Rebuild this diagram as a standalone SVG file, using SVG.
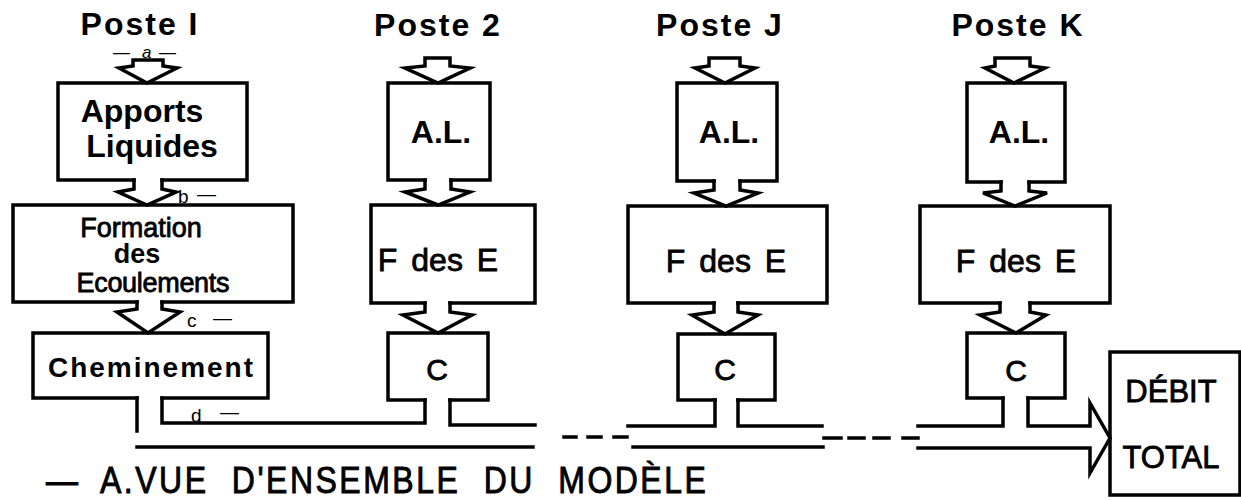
<svg xmlns="http://www.w3.org/2000/svg" width="1241" height="500" viewBox="0 0 1241 500">
  <style>
    .ln { fill: none; stroke: #000; stroke-width: 3.5; stroke-linejoin: miter; stroke-linecap: square; }
    .ar { fill: #fff; stroke: #000; stroke-width: 3.5; stroke-linejoin: miter; }
    .t { font-family: "Liberation Sans", Arial, sans-serif; fill: #000; }
    .b { font-weight: bold; }
    .r { stroke: #000; stroke-width: 0.8; }
    .hd { font-size: 32px; font-weight: bold; letter-spacing: 2px; text-anchor: middle; }
    .mid { text-anchor: middle; }
    .lab { font-size: 19px; }
  </style>

  <rect width="1241" height="500" fill="#fff"/>

  <!-- column headings -->
  <g id="headings">
    <text class="t hd" x="140" y="35">Poste I</text>
    <text class="t hd" x="438" y="36">Poste 2</text>
    <text class="t hd" x="720" y="36">Poste J</text>
    <text class="t hd" x="1018" y="36">Poste K</text>
  </g>

  <!-- Poste I : detailed chain -->
  <g id="apports-liquides">
    <path class="ln" d="M134,180 H58 V83 H247 V180 H162"/>
    <text class="t b mid" x="142" y="122" font-size="32">Apports</text>
    <text class="t b mid" x="152" y="157" font-size="32">Liquides</text>
  </g>
  <g id="formation-ecoulements">
    <path class="ln" d="M137,302 H13 V205 H293 V302 H162"/>
    <text class="t r mid" x="141" y="237" font-size="27">Formation</text>
    <text class="t b mid" x="137" y="263" font-size="27">des</text>
    <text class="t r mid" x="153" y="292" font-size="27" textLength="153">Ecoulements</text>
  </g>
  <g id="cheminement">
    <path class="ln" d="M137,398 H33 V333 H268 V398 H162"/>
    <text class="t b" x="48" y="377" font-size="28" textLength="205">Cheminement</text>
  </g>

  <!-- Poste 2 -->
  <g id="al-2">
    <path class="ln" d="M425,180 H388 V83 H490 V180 H451"/>
    <text class="t b mid" x="441" y="143" font-size="32">A.L.</text>
  </g>
  <g id="fde-2">
    <path class="ln" d="M425,303 H371 V205 H535 V303 H450"/>
    <text class="t r mid" x="438" y="271" font-size="32" word-spacing="5">F des E</text>
  </g>
  <g id="c-2">
    <path class="ln" d="M425,400 H388 V333 H488 V400 H450"/>
    <text class="t r mid" x="437" y="380" font-size="30">C</text>
  </g>

  <!-- Poste J -->
  <g id="al-j">
    <path class="ln" d="M714,181 H677 V83 H777 V181 H740"/>
    <text class="t b mid" x="729" y="143" font-size="32">A.L.</text>
  </g>
  <g id="fde-j">
    <path class="ln" d="M714,303 H628 V206 H827 V303 H738"/>
    <text class="t r mid" x="726" y="272" font-size="32" word-spacing="5">F des E</text>
  </g>
  <g id="c-j">
    <path class="ln" d="M715,400 H678 V334 H775 V400 H738"/>
    <text class="t r mid" x="725" y="380" font-size="30">C</text>
  </g>

  <!-- Poste K -->
  <g id="al-k">
    <path class="ln" d="M1001,182 H967 V83 H1065 V182 H1029"/>
    <text class="t b mid" x="1019" y="143" font-size="32">A.L.</text>
  </g>
  <g id="fde-k">
    <path class="ln" d="M1000,303 H920 V206 H1110 V303 H1030"/>
    <text class="t r mid" x="1016" y="272" font-size="32" word-spacing="5">F des E</text>
  </g>
  <g id="c-k">
    <path class="ln" d="M1003,398 H967 V333 H1065 V398 H1028"/>
    <text class="t r mid" x="1016" y="381" font-size="30">C</text>
  </g>

  <!-- outlet -->
  <g id="debit-total">
    <rect class="ln" x="1110" y="352" width="130" height="143"/>
    <text class="t r mid" x="1171" y="402" font-size="31">DÉBIT</text>
    <text class="t r mid" x="1171" y="468" font-size="31">TOTAL</text>
  </g>

  <!-- flow arrows and collecting channel -->
  <g id="connectors">
    <!-- inflow arrows -->
    <path class="ar" d="M133,60 H163 V66 L177,68 L147,83 L119,68 L133,66 Z"/>
    <path class="ar" d="M425,58 H450 V66 L470,68 L438,83 L405,68 L425,66 Z"/>
    <path class="ar" d="M709,58 H740 V66 L755,68 L725,83 L695,68 L709,66 Z"/>
    <path class="ar" d="M995,58 H1030 V66 L1045,68 L1014,83 L985,68 L995,66 Z"/>

    <!-- A.L. to F des E -->
    <path class="ln" d="M134,180 V189 L118,192 L147,205 L176,192 L162,189 V180"/>
    <path class="ln" d="M425,180 V189 L405,192 L438,205 L470,192 L451,189 V180"/>
    <path class="ln" d="M714,181 V190 L694,193 L726,206 L758,193 L740,190 V181"/>
    <path class="ln" d="M1001,182 V191 L983,193 L1015,206 L1047,193 L1029,191 V182"/>

    <!-- F des E to C -->
    <path class="ln" d="M137,302 V309 L117,312 L148,333 L180,312 L162,309 V302"/>
    <path class="ln" d="M425,303 V312 L403,315 L438,333 L472,315 L450,312 V303"/>
    <path class="ln" d="M714,303 V312 L692,315 L725,334 L758,315 L738,312 V303"/>
    <path class="ln" d="M1000,303 V312 L980,315 L1016,333 L1046,315 L1030,312 V303"/>

    <!-- channel, upper wall -->
    <path class="ln" d="M137,398 V431"/>
    <path class="ln" d="M162,398 V423 H425 V400"/>
    <path class="ln" d="M450,400 V425 H535"/>
    <path class="ln" d="M628,426 H715 V400"/>
    <path class="ln" d="M738,400 V426 H822"/>
    <path class="ln" d="M918,426 H1003 V398"/>
    <path class="ln" d="M1028,398 V426 H1090 V403 L1110,438 L1090,473 V448 H918"/>

    <!-- channel, lower wall -->
    <path class="ln" d="M137,447 H533"/>
    <path class="ln" d="M633,447 H823"/>

    <!-- omitted stations -->
    <path class="ln" d="M564,437 H576 M588,437 H601 M614,437 H627"/>
    <path class="ln" d="M824,438 H841 M849,438 H864 M874,438 H889 M903,438 H918"/>
  </g>

  <!-- stage letters -->
  <g id="stage-labels">
    <text class="t" x="113" y="58" font-size="17">—</text>
    <text class="t" x="142" y="58" font-size="17" font-style="italic">a</text>
    <text class="t" x="159" y="58" font-size="17">—</text>
    <text class="t lab" x="178" y="203">b</text>
    <text class="t lab" x="197" y="200">—</text>
    <text class="t lab" x="187" y="327">c</text>
    <text class="t lab" x="213" y="324">—</text>
    <text class="t lab" x="191" y="422">d</text>
    <text class="t lab" x="220" y="418">—</text>
  </g>

  <!-- caption -->
  <g id="caption" transform="translate(0,493) scale(1,1.15)">
    <text class="t r" y="0" font-size="32" letter-spacing="2.5" word-spacing="12"><tspan x="46">—</tspan><tspan x="100">A.VUE D'ENSEMBLE DU MODÈLE</tspan></text>
  </g>
</svg>
